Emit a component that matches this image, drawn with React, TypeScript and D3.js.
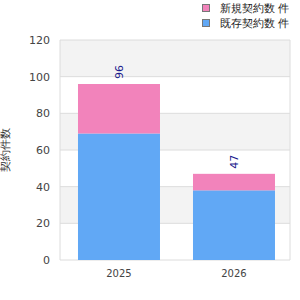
import React from "react";
import * as d3 from "d3";

const categories = ["2025", "2026"];
const seriesNames = ["新規契約数 件", "既存契約数 件"];
const bottomValues = [69, 38];
const topValues = [27, 9];
const totals = [96, 47];
const yTicks = [0, 20, 40, 60, 80, 100, 120];

const W = 300, H = 300;
const left = 60, right = 290, top = 40, bottom = 260;
const BLUE = "#61a8f5";
const PINK = "#f283bb";

export default function App() {
  const x = d3.scaleBand().domain(categories).range([left, right]).paddingInner(0.287).paddingOuter(0.1435).align(0.545);
  const y = d3.scaleLinear().domain([0, 120]).range([bottom, top]);
  const font = "'DejaVu Sans', sans-serif";
  const bands = yTicks.slice(0, -1).map((v, i) => ({ lo: v, hi: yTicks[i + 1], i }));
  return (
    <svg width={W} height={H} style={{ position: "absolute", left: 0, top: 0 }} fontFamily={font}>
      <rect width={W} height={H} fill="#fff" />
      {bands.map((b) => (
        <rect key={b.i} x={left} y={y(b.hi)} width={right - left} height={y(b.lo) - y(b.hi)}
          fill={b.i % 2 === 1 ? "#f3f3f3" : "#ffffff"} />
      ))}
      {yTicks.map((t) => (
        <line key={t} x1={left} x2={right} y1={y(t)} y2={y(t)} stroke="#dcdcdc" strokeWidth={1} />
      ))}
      <line x1={left} x2={left} y1={top} y2={bottom} stroke="#dcdcdc" />
      <line x1={right} x2={right} y1={top} y2={bottom} stroke="#dcdcdc" />
      {categories.map((c, i) => (
        <g key={c}>
          <rect x={x(c)} width={x.bandwidth()} y={y(bottomValues[i])} height={y(0) - y(bottomValues[i])} fill={BLUE} />
          <rect x={x(c)} width={x.bandwidth()} y={y(bottomValues[i] + topValues[i])} height={y(bottomValues[i]) - y(bottomValues[i] + topValues[i])} fill={PINK} />
          <text transform={`translate(${(x(c) as number) + x.bandwidth() / 2 + 4},${y(totals[i]) - 12}) rotate(-90)`}
            textAnchor="middle" fontSize={11} fill="#1a1a8c">{totals[i]}</text>
          <text x={(x(c) as number) + x.bandwidth() / 2} y={277} textAnchor="middle" fontSize={10} fill="#444">{c}</text>
        </g>
      ))}
      {yTicks.map((t) => (
        <text key={t} x={50} y={y(t) + 4} textAnchor="end" fontSize={11} fill="#444">{t}</text>
      ))}
      <text transform={`translate(9,${(top + bottom) / 2}) rotate(-90)`} textAnchor="middle" fontSize={11} fill="#333">契約件数</text>
      {seriesNames.map((s, i) => (
        <g key={s}>
          <rect x={202.5} y={4.5 + i * 15} width={7} height={7} fill={i === 0 ? PINK : BLUE} stroke="#777" strokeWidth={1} />
          <text x={220} y={12 + i * 15} fontSize={11} fill="#222">{s}</text>
        </g>
      ))}
    </svg>
  );
}
